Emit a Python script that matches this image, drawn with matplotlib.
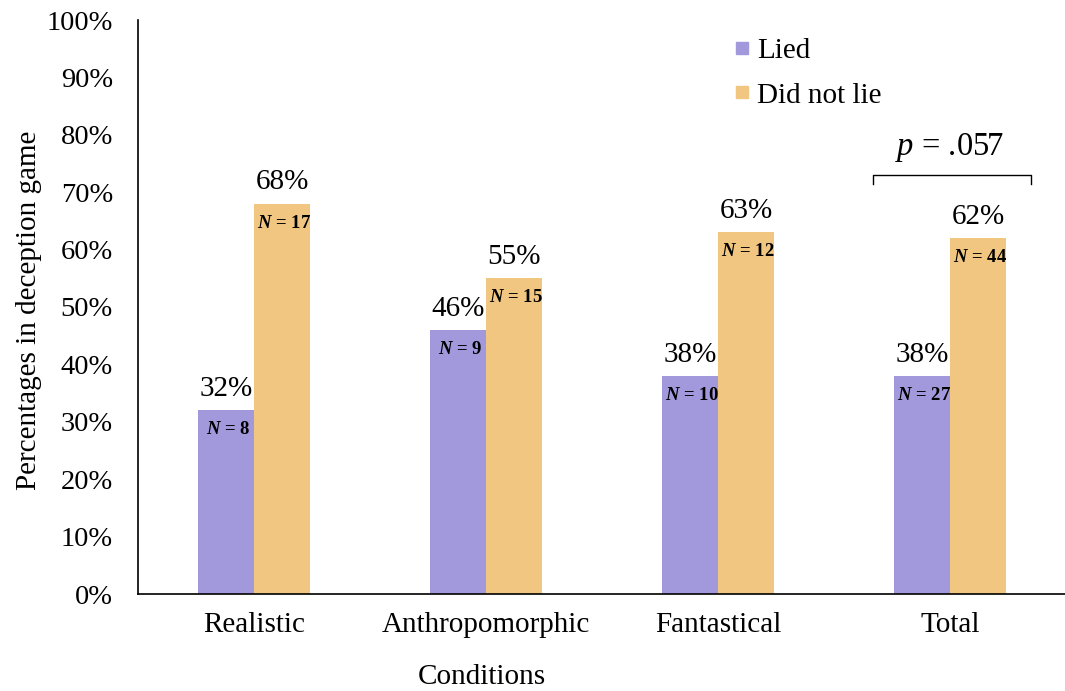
import numpy as np
import matplotlib.pyplot as plt
from matplotlib.lines import Line2D

plt.rcParams['font.family'] = ['Liberation Serif', 'DejaVu Serif']
plt.rcParams['mathtext.fontset'] = 'custom'
plt.rcParams['mathtext.rm'] = 'Liberation Serif'
plt.rcParams['mathtext.it'] = 'Liberation Serif:italic'
plt.rcParams['mathtext.bf'] = 'Liberation Serif:bold'
plt.rcParams['mathtext.bfit'] = 'Liberation Serif:italic:bold'

conditions = ['Realistic', 'Anthropomorphic', 'Fantastical', 'Total']
lied_pct = [32, 46, 38, 38]
not_lied_pct = [68, 55, 63, 62]
lied_n = [8, 9, 10, 27]
not_lied_n = [17, 15, 12, 44]
p_text = '.057'

lied_color = '#a298dc'
not_lied_color = '#f1c680'

fig = plt.figure(figsize=(10.65, 6.91), dpi=100)
ax = fig.add_axes([138 / 1065, 97 / 691, 928 / 1065, 574 / 691])

x = np.arange(len(conditions))
w = 0.2414

bars_lied = ax.bar(x - w / 2, lied_pct, w, color=lied_color, label='Lied')
bars_not = ax.bar(x + w / 2, not_lied_pct, w, color=not_lied_color, label='Did not lie')

# percentage above each bar, sample size just inside the top
for bars, pcts, ns in [(bars_lied, lied_pct, lied_n), (bars_not, not_lied_pct, not_lied_n)]:
    for b, pct, n in zip(bars, pcts, ns):
        cx = b.get_x() + b.get_width() / 2
        ax.annotate(f'{pct}%', (cx, b.get_height()), xytext=(0, 6),
                    textcoords='offset points', ha='center', va='bottom', fontsize=21)
        ax.annotate(r'$\mathbfit{N}$ = ' + str(n), (cx + 0.01, b.get_height()), xytext=(0, -8),
                    textcoords='offset points', ha='center', va='top',
                    fontsize=13.5, fontweight='bold')

ax.set_xlim(-0.5, len(conditions) - 0.5)
ax.set_ylim(0, 100)
ax.set_yticks(np.arange(0, 101, 10))
ax.set_yticklabels([f'{v}%' for v in range(0, 101, 10)], fontsize=20.5)
ax.set_xticks(x)
ax.set_xticklabels(conditions, fontsize=21)
ax.tick_params(axis='both', length=0)
ax.tick_params(axis='y', pad=18)
ax.tick_params(axis='x', pad=13)

for s in ['top', 'right']:
    ax.spines[s].set_visible(False)
ax.spines['left'].set_linewidth(1.2)
ax.spines['bottom'].set_linewidth(1.2)

fig.text(29 / 1065, 1 - 310 / 691, 'Percentages in deception game', rotation=90,
         ha='center', va='center', fontsize=21)
fig.text(482 / 1065, 1 - 677 / 691, 'Conditions', ha='center', va='center', fontsize=21)

# bracket over the Total group
tx = x[-1]
bx0, bx1 = tx - 0.33, tx + 0.35
ax.plot([bx0, bx0, bx1, bx1], [71.5, 73, 73, 71.5], color='black', lw=1, clip_on=False)
ax.text(tx, 75, r'$\mathit{p}$ = ' + p_text, ha='center', va='bottom', fontsize=23.5)

handles = [Line2D([], [], marker='s', ls='none', markersize=9, color=lied_color),
           Line2D([], [], marker='s', ls='none', markersize=9, color=not_lied_color)]
ax.legend(handles, ['Lied', 'Did not lie'], loc='upper left', bbox_to_anchor=(0.607, 1.015),
          frameon=False, fontsize=21, handletextpad=0.0, handlelength=1.0,
          labelspacing=0.62)

fig.savefig('out.png', dpi=100)
